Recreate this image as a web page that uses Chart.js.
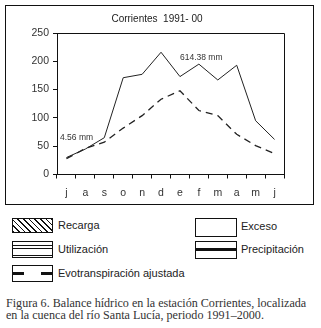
<!DOCTYPE html>
<html>
<head>
<meta charset="utf-8">
<script src="https://cdn.jsdelivr.net/npm/chart.js@4.4.1/dist/chart.umd.min.js"></script>
<style>
  html, body { margin: 0; padding: 0; background: #fff; }
  #wrap { position: relative; width: 321px; height: 328px; overflow: hidden; font-family: "Liberation Sans", Arial, sans-serif; color: #222; }
  #chartBox { position: absolute; left: 0; top: 0; width: 321px; height: 210px; }
  .sw { position: absolute; box-sizing: border-box; border: 1px solid #111; background: #fff; }
  .lab { position: absolute; font-size: 11px; line-height: 12px; white-space: nowrap; }
  #caption { position: absolute; left: 6px; top: 297px; width: 315px; font-family: "Liberation Serif", "Times New Roman", serif; font-size: 12.1px; line-height: 12px; color: #333; white-space: nowrap; }
</style>
</head>
<body>
<div id="wrap">
  <div id="chartBox"><canvas id="c" width="321" height="210"></canvas></div>

  <div class="sw" style="left:12px;top:218px;width:41px;height:15px;background:repeating-linear-gradient(45deg,#111 0 1px,#fff 1px 4px);"></div>
  <div class="lab" style="left:58px;top:219px;">Recarga</div>

  <div class="sw" style="left:12px;top:241px;width:41px;height:17px;background:repeating-linear-gradient(180deg,#fff 0 2.5px,#111 2.5px 3.5px);"></div>
  <div class="lab" style="left:58px;top:243px;">Utilización</div>

  <div class="sw" style="left:12px;top:265px;width:41px;height:17px;">
    <div style="position:absolute;left:0;top:6px;width:11px;height:3px;background:#111;"></div>
    <div style="position:absolute;right:0;top:6px;width:11px;height:3px;background:#111;"></div>
  </div>
  <div class="lab" style="left:58px;top:267px;">Evotranspiración ajustada</div>

  <div class="sw" style="left:195px;top:218px;width:42px;height:19px;"></div>
  <div class="lab" style="left:241px;top:220px;">Exceso</div>

  <div class="sw" style="left:195px;top:241px;width:42px;height:18px;">
    <div style="position:absolute;left:0;top:6px;width:40px;height:3px;background:#111;"></div>
  </div>
  <div class="lab" style="left:241px;top:243px;">Precipitación</div>

  <div id="caption">Figura 6. Balance hídrico en la estación Corrientes, localizada<br>en la cuenca del río Santa Lucía, periodo 1991–2000.</div>
</div>
<script>
const months = ["j","a","s","o","n","d","e","f","m","a","m","j"];
const precipitacion = [30, 45, 65, 171, 177, 216, 173, 195, 167, 193, 95, 62];
const evotranspiracion = [28, 46, 57, 82, 104, 133, 148, 113, 104, 71, 51, 37];
const yTicks = [0, 50, 100, 150, 200, 250];
const chartTitle = "Corrientes  1991- 00";
const notes = [
  { text: "4.56 mm", x: -0.34, y: 65 },
  { text: "614.38 mm", x: 6.0, y: 206 }
];

const deco = {
  id: "deco",
  beforeDraw(chart) {
    const ctx = chart.ctx;
    ctx.save();
    ctx.strokeStyle = "#111";
    ctx.lineWidth = 1;
    ctx.strokeRect(5.5, 5.5, 308, 199);
    ctx.restore();
  },
  afterDraw(chart) {
    const ctx = chart.ctx;
    const a = chart.chartArea;
    const xs = chart.scales.x, ys = chart.scales.y;
    ctx.save();
    ctx.strokeStyle = "#111";
    ctx.lineWidth = 1;
    ctx.beginPath();
    ctx.moveTo(Math.round(a.left) + 0.5, Math.round(a.top) + 0.5);
    ctx.lineTo(Math.round(a.right) + 0.5, Math.round(a.top) + 0.5);
    ctx.lineTo(Math.round(a.right) + 0.5, Math.round(a.bottom) + 0.5);
    ctx.stroke();
    ctx.fillStyle = "#222";
    ctx.font = "10px 'Liberation Sans', Arial, sans-serif";
    ctx.textAlign = "center";
    ctx.textBaseline = "middle";
    ctx.fillText(chartTitle, 157, 19);
    ctx.font = "8.5px 'Liberation Sans', Arial, sans-serif";
    ctx.textAlign = "left";
    ctx.fillStyle = "#333";
    const step = xs.getPixelForValue(1) - xs.getPixelForValue(0);
    for (const n of notes) {
      const px = xs.getPixelForValue(0) + n.x * step;
      ctx.fillText(n.text, px, ys.getPixelForValue(n.y));
    }
    ctx.restore();
  }
};

new Chart(document.getElementById("c"), {
  type: "line",
  data: {
    labels: months,
    datasets: [
      { label: "Precipitación", data: precipitacion, borderColor: "#222", borderWidth: 1, pointRadius: 0, tension: 0, fill: false },
      { label: "Evotranspiración ajustada", data: evotranspiracion, borderColor: "#222", borderWidth: 1.3, borderDash: [7, 5], pointRadius: 0, tension: 0, fill: false }
    ]
  },
  options: {
    responsive: false,
    animation: false,
    devicePixelRatio: 1,
    layout: { padding: { left: 17, right: 37, top: 33, bottom: 9 } },
    plugins: { legend: { display: false }, title: { display: false }, tooltip: { enabled: false } },
    scales: {
      x: {
        offset: true,
        grid: { offset: true, drawOnChartArea: false, drawTicks: true, tickLength: 4, color: "#111" },
        border: { color: "#111", width: 1 },
        ticks: { color: "#333", font: { family: "'Liberation Sans', Arial, sans-serif", size: 10.5 }, padding: 8, maxRotation: 0, autoSkip: false },
        afterFit(s) { s.height = 26.5; }
      },
      y: {
        min: 0, max: 250,
        afterBuildTicks(s) { s.ticks = yTicks.map(v => ({ value: v })); },
        grid: { drawOnChartArea: false, drawTicks: true, tickLength: 4, color: "#111" },
        border: { color: "#111", width: 1 },
        ticks: { color: "#333", font: { family: "'Liberation Sans', Arial, sans-serif", size: 10.5 }, padding: 4 },
        afterFit(s) { s.width = 40; }
      }
    }
  },
  plugins: [deco]
});
</script>
</body>
</html>
